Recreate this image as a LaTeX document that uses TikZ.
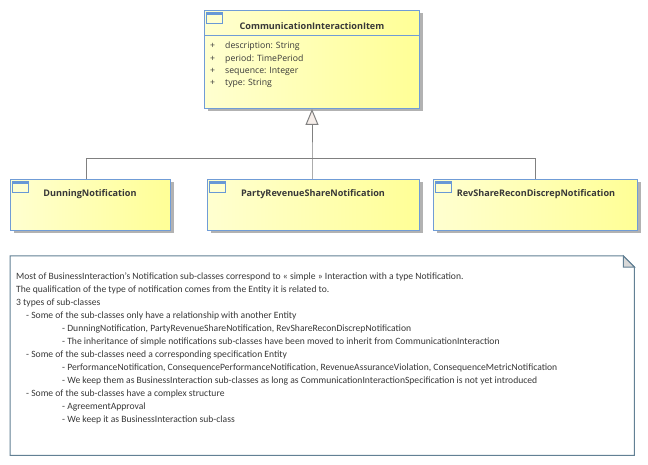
\documentclass[tikz,border=0pt]{standalone}
\usepackage{fontspec}
\setmainfont{Carlito}
\newfontfamily\clsfont{Open Sans}
\usetikzlibrary{arrows.meta,shadows,calc}
\definecolor{clsborder}{RGB}{112,156,214}
\definecolor{iconblue}{RGB}{104,152,214}
\definecolor{yelL}{RGB}{255,255,208}
\definecolor{yelR}{RGB}{255,255,150}
\definecolor{txt}{RGB}{56,56,56}
\definecolor{conncol}{RGB}{128,128,128}
\definecolor{notebord}{RGB}{98,128,148}
\definecolor{foldfill}{RGB}{216,216,216}
\definecolor{trifill}{RGB}{246,238,234}
\definecolor{shadowcol}{RGB}{178,178,178}
\tikzset{
  clsbox/.style={draw=clsborder, line width=1pt, left color=yelL, right color=yelR,
    inner sep=0pt, anchor=north west,
    drop shadow={shadow xshift=3pt, shadow yshift=-3pt, fill=shadowcol, opacity=1}},
  icon/.style={draw=iconblue, line width=1pt, fill=yelL, inner sep=0pt, minimum width=16pt, minimum height=11pt, anchor=north west,
    path picture={\fill[iconblue] (path picture bounding box.north west) rectangle ([yshift=-3pt]path picture bounding box.north east);}},
  clsname/.style={font=\clsfont\bfseries\fontsize{9.1}{11}\selectfont, text=txt, inner sep=0pt},
  attr/.style={font=\clsfont\fontsize{8.7}{10}\selectfont, text=txt, inner sep=0pt, anchor=west},
  conn/.style={draw=conncol, line width=1pt},
  notetext/.style={font=\fontsize{9.6}{13}\selectfont, text=txt, inner sep=0pt, anchor=north west, align=left},
}
\begin{document}
\begin{tikzpicture}[x=1pt,y=-1pt]
\useasboundingbox[fill=white] (0,0) rectangle (648,465);
% top class
\node[clsbox, minimum width=215pt, minimum height=98pt] (top) at (204,10) {};
\draw[clsborder, line width=1pt] (204,36) -- (419,36);
\node[icon] (topicon) at (206,12) {};
\node[clsname] (topname) at (312,26) {CommunicationInteractionItem};
\node[attr] (p1) at (210,46) {+}; \node[attr] (a1) at (225,46) {description: String};
\node[attr] (p2) at (210,59) {+}; \node[attr] (a2) at (225,59) {period: TimePeriod};
\node[attr] (p3) at (210,71) {+}; \node[attr] (a3) at (225,71) {sequence: Integer};
\node[attr] (p4) at (210,83) {+}; \node[attr] (a4) at (225,83) {type: String};
% children
\node[clsbox, minimum width=160pt, minimum height=51pt] (dun) at (10,179) {};
\node[icon] (dunicon) at (12,181) {};
\node[clsname] (dunname) at (90,194) {DunningNotification};
\node[clsbox, minimum width=212pt, minimum height=51pt] (par) at (207,179) {};
\node[icon] (paricon) at (209,181) {};
\node[clsname] (parname) at (313,194) {PartyRevenueShareNotification};
\node[clsbox, minimum width=204pt, minimum height=51pt] (rev) at (433,179) {};
\node[icon] (revicon) at (435,181) {};
\node[clsname] (revname) at (536,194) {RevShareReconDiscrepNotification};
% generalization
\coordinate (j) at (312,159);
\draw[conn, -{Triangle[open, length=16pt, width=13pt, fill=trifill]}] (par.north -| j) -- (j) -- (top.south -| j);
\draw[conn] ([xshift=-4pt]dun.north) |- (j);
\draw[conn] (rev.north) |- (j);
% note
\node[inner sep=0pt, minimum width=624pt, minimum height=199pt, anchor=north west] (note) at (10,256) {};
\draw[notebord, line width=1pt, fill=white] (note.north west) -- ([xshift=-11pt]note.north east) -- ([yshift=-11pt]note.north east) -- (note.south east) -- (note.south west) -- cycle;
\draw[notebord, line width=1pt, fill=foldfill] ([xshift=-11pt]note.north east) -- ([xshift=-11pt,yshift=-11pt]note.north east) -- ([yshift=-11pt]note.north east) -- cycle;
\node[notetext] (notebody) at (16,273) {Most of BusinessInteraction’s Notification sub-classes correspond to « simple » Interaction with a type Notification.\\
The qualification of the type of notification comes from the Entity it is related to.\\
3 types of sub-classes\\
\hspace*{10pt}- Some of the sub-classes only have a relationship with another Entity\\
\hspace*{46pt}- DunningNotification, PartyRevenueShareNotification, RevShareReconDiscrepNotification\\
\hspace*{46pt}- The inheritance of simple notifications sub-classes have been moved to inherit from CommunicationInteraction\\
\hspace*{10pt}- Some of the sub-classes need a corresponding specification Entity\\
\hspace*{46pt}- PerformanceNotification, ConsequencePerformanceNotification, RevenueAssuranceViolation, ConsequenceMetricNotification\\
\hspace*{46pt}- We keep them as BusinessInteraction sub-classes as long as CommunicationInteractionSpecification is not yet introduced\\
\hspace*{10pt}- Some of the sub-classes have a complex structure\\
\hspace*{46pt}- AgreementApproval\\
\hspace*{46pt}- We keep it as BusinessInteraction sub-class};
\end{tikzpicture}
\end{document}
